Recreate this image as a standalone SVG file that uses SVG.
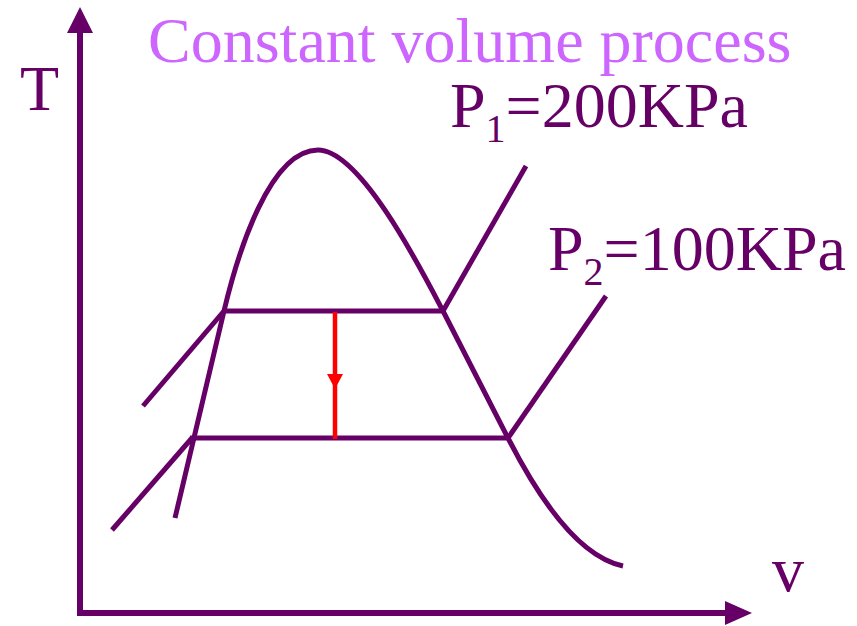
<svg xmlns="http://www.w3.org/2000/svg" width="857" height="626" viewBox="0 0 857 626">
<style>
.ln{fill:none;stroke:#660066;stroke-width:5;stroke-linecap:butt;stroke-linejoin:round}
.ax{fill:none;stroke:#660066;stroke-width:6}
.lbl{font-family:"Liberation Serif","Times New Roman",serif;fill:#660066;font-size:64px}
.ttl{font-family:"Liberation Serif","Times New Roman",serif;fill:#CC66FF;font-size:64px}
</style>
<rect width="857" height="626" fill="#ffffff"/>
<g id="axes">
<line class="ax" x1="80" y1="616" x2="80" y2="30"/>
<polygon points="80,7 67,33 93,33" fill="#660066"/>
<line class="ax" x1="77" y1="613" x2="728" y2="613"/>
<polygon points="752,613 725,601 725,625" fill="#660066"/>
</g>
<g id="title"><text class="ttl" x="148" y="62">Constant volume process</text></g>
<g id="label-T"><text class="lbl" x="20" y="110" font-size="62">T</text></g>
<g id="label-v"><text class="lbl" x="772" y="591">v</text></g>
<g id="label-P1"><text class="lbl" x="450" y="127">P<tspan font-size="40" dy="15">1</tspan><tspan dy="-15">=200KPa</tspan></text></g>
<g id="label-P2"><text class="lbl" x="548" y="270">P<tspan font-size="40" dy="15">2</tspan><tspan dy="-15">=100KPa</tspan></text></g>
<g id="dome">
<path class="ln" d="M175,518 L224,311 C238,252 270,150 318,150 C360,150 420,267 443,311 L508,438 C533,487 575,556 623,566"/>
</g>
<g id="connectors">
<line class="ln" x1="222" y1="311" x2="443" y2="311"/>
<line class="ln" x1="190" y1="438" x2="508" y2="438"/>
<line class="ln" x1="143" y1="406" x2="224" y2="311"/>
<line class="ln" x1="112" y1="530" x2="192" y2="438"/>
<line class="ln" x1="443" y1="311" x2="526" y2="166"/>
<line class="ln" x1="508" y1="438" x2="606" y2="296"/>
<line x1="335" y1="312" x2="335" y2="439" stroke="#FF0000" stroke-width="4.5"/>
<polygon points="327,374 343,374 335,389" fill="#FF0000"/>
</g>
</svg>
